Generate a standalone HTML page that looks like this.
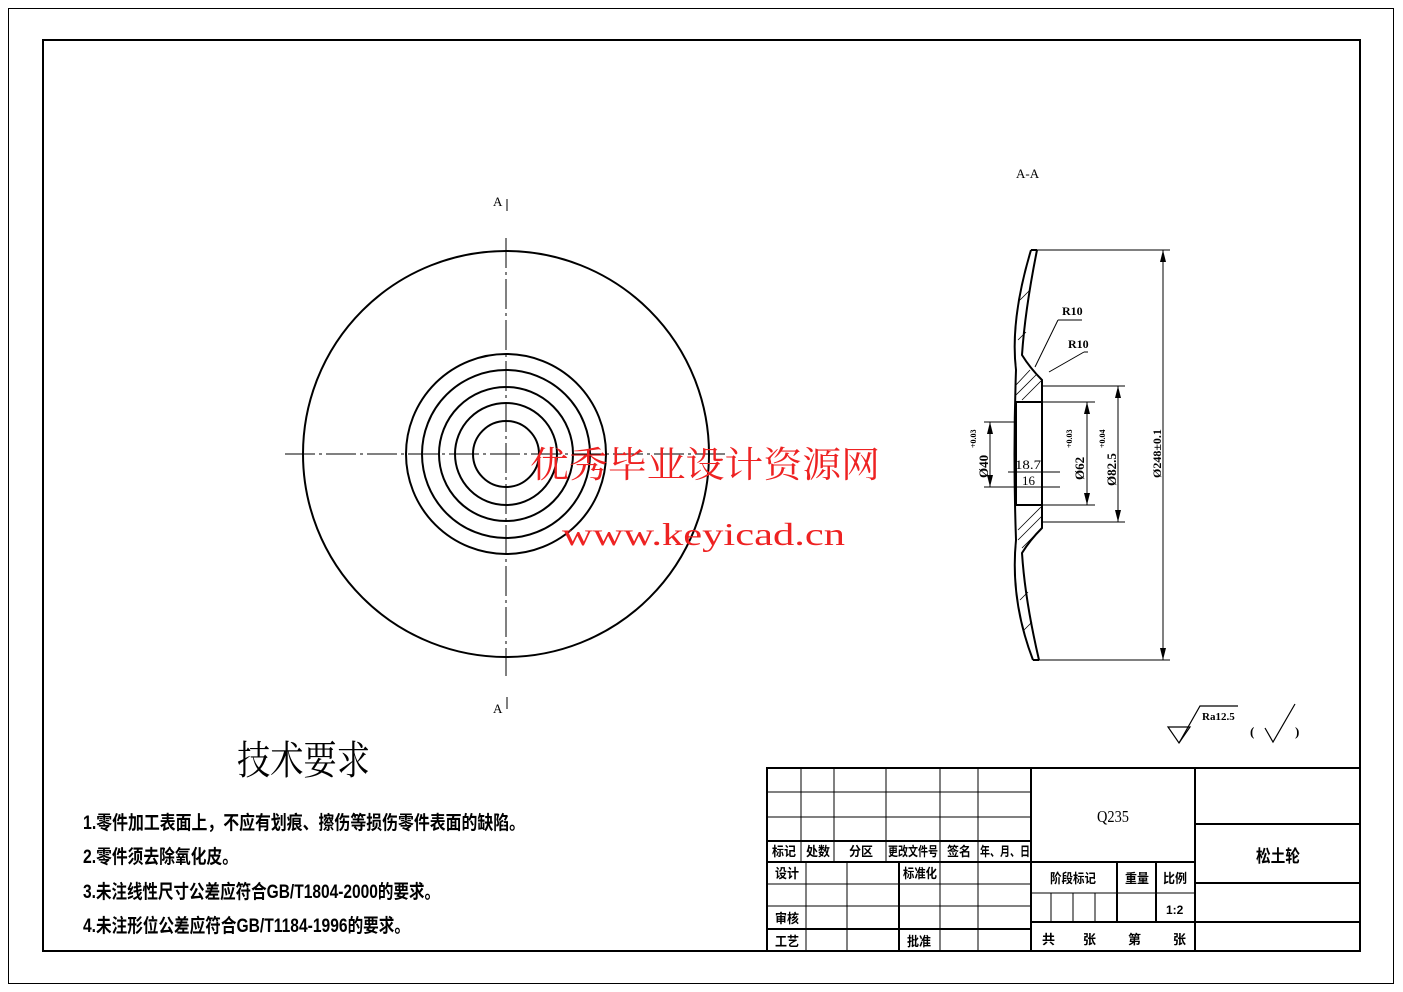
<!DOCTYPE html>
<html><head><meta charset="utf-8"><style>
html,body{margin:0;padding:0;background:#fff;}
svg{display:block;}
text{font-family:"Liberation Serif","Noto Serif CJK SC","Noto Sans CJK SC",serif;fill:#000;}
.cn{font-family:"Liberation Sans","Noto Sans CJK SC",sans-serif;font-weight:bold;}
</style></head><body>
<svg width="1403" height="992" viewBox="0 0 1403 992" xmlns="http://www.w3.org/2000/svg">
<rect x="0" y="0" width="1403" height="992" fill="#fff"/>
<rect x="8.5" y="8.5" width="1385" height="975" fill="none" stroke="#000" stroke-width="1"/>
<rect x="43" y="40" width="1317" height="911" fill="none" stroke="#000" stroke-width="2"/>

<!-- front view -->
<g fill="none" stroke="#000" stroke-width="2">
<circle cx="506" cy="454" r="203"/>
<circle cx="506" cy="454" r="100"/>
<circle cx="506" cy="454" r="84"/>
<circle cx="506" cy="454" r="67"/>
<circle cx="506" cy="454" r="51"/>
<circle cx="506" cy="454" r="33"/>
</g>
<g stroke="#000" stroke-width="1" stroke-dasharray="30,4,3,4">
<line x1="285" y1="454" x2="727" y2="454"/>
<line x1="506" y1="238" x2="506" y2="676"/>
</g>
<text x="493" y="206" font-size="13">A</text>
<line x1="507" y1="199" x2="507" y2="211" stroke="#000"/>
<text x="493" y="713" font-size="13">A</text>
<line x1="507" y1="697" x2="507" y2="709" stroke="#000"/>

<!-- section view -->
<text x="1016" y="178" font-size="13">A-A</text>
<g fill="none" stroke="#000" stroke-width="2">
<path d="M1031 250 Q1010 320 1016 370 Q1013 454 1016 540 Q1010 600 1033 660"/>
<path d="M1037 250 Q1025 310 1022 355 Q1030 368 1042 380 L1042 528 Q1030 540 1022 553 Q1025 600 1039 660"/>
<rect x="1016" y="402" width="26" height="103"/>
<line x1="1031" y1="250" x2="1037" y2="250"/>
<line x1="1033" y1="660" x2="1039" y2="660"/>
</g>
<g stroke="#000" stroke-width="0.8">
<line x1="1016" y1="385" x2="1030" y2="370"/><line x1="1016" y1="395" x2="1036" y2="375"/>
<line x1="1022" y1="400" x2="1041" y2="381"/><line x1="1018" y1="530" x2="1041" y2="507"/>
<line x1="1018" y1="540" x2="1042" y2="516"/><line x1="1022" y1="548" x2="1034" y2="536"/>
<line x1="1020" y1="300" x2="1030" y2="290"/><line x1="1018" y1="340" x2="1026" y2="332"/>
<line x1="1020" y1="600" x2="1028" y2="592"/><line x1="1024" y1="630" x2="1032" y2="622"/>
</g>
<g stroke="#000" stroke-width="1" fill="none">
<line x1="1037" y1="250" x2="1170" y2="250"/><line x1="1039" y1="660" x2="1170" y2="660"/>
<line x1="1163" y1="250" x2="1163" y2="660"/>
<line x1="1042" y1="386" x2="1125" y2="386"/><line x1="1042" y1="522" x2="1125" y2="522"/>
<line x1="1118" y1="386" x2="1118" y2="522"/>
<line x1="1042" y1="402" x2="1095" y2="402"/><line x1="1042" y1="505" x2="1095" y2="505"/>
<line x1="1087" y1="402" x2="1087" y2="505"/>
<line x1="984" y1="422" x2="1016" y2="422"/><line x1="984" y1="487" x2="1016" y2="487"/>
<line x1="990" y1="422" x2="990" y2="487"/>
<line x1="1008" y1="472" x2="1060" y2="472"/><line x1="1000" y1="487" x2="1060" y2="487"/>
<line x1="1049" y1="372" x2="1084" y2="352"/><line x1="1035" y1="367" x2="1058" y2="320"/>
<line x1="1058" y1="320" x2="1082" y2="320"/><line x1="1084" y1="352" x2="1088" y2="352"/>
</g>
<g fill="#000">
<path d="M1163 250 l-3 12 h6z"/><path d="M1163 660 l-3 -12 h6z"/>
<path d="M1118 386 l-3 12 h6z"/><path d="M1118 522 l-3 -12 h6z"/>
<path d="M1087 402 l-3 12 h6z"/><path d="M1087 505 l-3 -12 h6z"/>
<path d="M990 422 l-3 12 h6z"/><path d="M990 487 l-3 -12 h6z"/>
</g>
<text x="1062" y="315" font-size="12" font-weight="bold">R10</text>
<text x="1068" y="348" font-size="12" font-weight="bold">R10</text>
<text x="1015" y="469" font-size="13" textLength="26" lengthAdjust="spacingAndGlyphs">18.7</text>
<text x="1022" y="485" font-size="13">16</text>
<text transform="translate(988,478) rotate(-90)" font-size="13" font-weight="bold">Ø40</text>
<text transform="translate(976,448) rotate(-90)" font-size="8" font-weight="bold">+0.03</text>
<text transform="translate(1084,480) rotate(-90)" font-size="13" font-weight="bold">Ø62</text>
<text transform="translate(1072,448) rotate(-90)" font-size="8" font-weight="bold">+0.03</text>
<text transform="translate(1116,486) rotate(-90)" font-size="13" font-weight="bold">Ø82.5</text>
<text transform="translate(1105,448) rotate(-90)" font-size="8" font-weight="bold">+0.04</text>
<text transform="translate(1161,478) rotate(-90)" font-size="12" font-weight="bold">Ø248±0.1</text>

<!-- watermark -->
<text x="530" y="477" font-size="36" style="fill:#e22" textLength="350" lengthAdjust="spacingAndGlyphs">优秀毕业设计资源网</text>
<text x="562" y="545" font-size="32" style="fill:#e22" font-family="Liberation Mono,monospace" textLength="283" lengthAdjust="spacingAndGlyphs">www.keyicad.cn</text>

<!-- roughness -->
<g stroke="#000" stroke-width="1.2" fill="none">
<path d="M1168 727 h22 l-11 16 z"/><path d="M1179 743 L1200 706 h38"/>
<path d="M1265 728 l8 14 l22 -38"/>
</g>
<text x="1202" y="720" font-size="11" font-weight="bold">Ra12.5</text>
<text x="1250" y="736" font-size="13" font-weight="bold">(</text>
<text x="1295" y="736" font-size="13" font-weight="bold">)</text>

<!-- tech req -->
<text x="237" y="774" font-size="40" textLength="133" lengthAdjust="spacingAndGlyphs">技术要求</text>
<text class="cn" x="83" y="829" font-size="19" textLength="442" lengthAdjust="spacingAndGlyphs">1.零件加工表面上，不应有划痕、擦伤等损伤零件表面的缺陷。</text>
<text class="cn" x="83" y="863" font-size="19" textLength="155" lengthAdjust="spacingAndGlyphs">2.零件须去除氧化皮。</text>
<text class="cn" x="83" y="898" font-size="19" textLength="357" lengthAdjust="spacingAndGlyphs">3.未注线性尺寸公差应符合GB/T1804-2000的要求。</text>
<text class="cn" x="83" y="932" font-size="19" textLength="327" lengthAdjust="spacingAndGlyphs">4.未注形位公差应符合GB/T1184-1996的要求。</text>

<!-- title block -->
<g stroke="#000" stroke-width="1" fill="none">
<line x1="767" y1="792" x2="1031" y2="792"/>
<line x1="767" y1="817" x2="1031" y2="817"/>
<line x1="767" y1="906" x2="1031" y2="906"/>
<line x1="767" y1="884" x2="1031" y2="884"/>
<line x1="801" y1="768" x2="801" y2="862"/><line x1="834" y1="768" x2="834" y2="862"/>
<line x1="886" y1="768" x2="886" y2="862"/><line x1="940" y1="768" x2="940" y2="862"/>
<line x1="978" y1="768" x2="978" y2="862"/>
<line x1="806" y1="862" x2="806" y2="951"/><line x1="847" y1="862" x2="847" y2="951"/>
<line x1="940" y1="862" x2="940" y2="951"/><line x1="978" y1="862" x2="978" y2="951"/>
<line x1="1051" y1="893" x2="1051" y2="922"/><line x1="1073" y1="893" x2="1073" y2="922"/>
<line x1="1095" y1="893" x2="1095" y2="922"/>
<line x1="1031" y1="893" x2="1195" y2="893"/>
</g>
<g stroke="#000" stroke-width="2" fill="none">
<rect x="767" y="768" width="593" height="183"/>
<line x1="767" y1="841" x2="1031" y2="841"/>
<line x1="767" y1="862" x2="1031" y2="862"/>
<line x1="767" y1="929" x2="1031" y2="929"/>
<line x1="1031" y1="768" x2="1031" y2="951"/>
<line x1="1195" y1="768" x2="1195" y2="951"/>
<line x1="1031" y1="862" x2="1195" y2="862"/>
<line x1="1031" y1="922" x2="1360" y2="922"/>
<line x1="1195" y1="824" x2="1360" y2="824"/>
<line x1="1195" y1="883" x2="1360" y2="883"/>
<line x1="899" y1="862" x2="899" y2="951"/>
<line x1="1117" y1="862" x2="1117" y2="922"/>
<line x1="1156" y1="862" x2="1156" y2="922"/>
</g>
<text class="cn" x="772" y="856" font-size="13" textLength="24" lengthAdjust="spacingAndGlyphs">标记</text>
<text class="cn" x="806" y="856" font-size="13" textLength="24" lengthAdjust="spacingAndGlyphs">处数</text>
<text class="cn" x="849" y="856" font-size="13" textLength="24" lengthAdjust="spacingAndGlyphs">分区</text>
<text class="cn" x="888" y="856" font-size="13" textLength="50" lengthAdjust="spacingAndGlyphs">更改文件号</text>
<text class="cn" x="947" y="856" font-size="13" textLength="24" lengthAdjust="spacingAndGlyphs">签名</text>
<text class="cn" x="980" y="856" font-size="13" textLength="50" lengthAdjust="spacingAndGlyphs">年、月、日</text>
<text class="cn" x="775" y="878" font-size="13" textLength="24" lengthAdjust="spacingAndGlyphs">设计</text>
<text class="cn" x="903" y="878" font-size="13" textLength="34" lengthAdjust="spacingAndGlyphs">标准化</text>
<text class="cn" x="775" y="923" font-size="13" textLength="24" lengthAdjust="spacingAndGlyphs">审核</text>
<text class="cn" x="775" y="946" font-size="13" textLength="24" lengthAdjust="spacingAndGlyphs">工艺</text>
<text class="cn" x="907" y="946" font-size="13" textLength="24" lengthAdjust="spacingAndGlyphs">批准</text>
<text class="cn" x="1050" y="883" font-size="13" textLength="46" lengthAdjust="spacingAndGlyphs">阶段标记</text>
<text class="cn" x="1125" y="883" font-size="13" textLength="24" lengthAdjust="spacingAndGlyphs">重量</text>
<text class="cn" x="1163" y="883" font-size="13" textLength="24" lengthAdjust="spacingAndGlyphs">比例</text>
<text class="cn" x="1166" y="914" font-size="12">1:2</text>
<text class="cn" x="1042" y="944" font-size="13">共</text>
<text class="cn" x="1083" y="944" font-size="13">张</text>
<text class="cn" x="1128" y="944" font-size="13">第</text>
<text class="cn" x="1173" y="944" font-size="13">张</text>
<text class="cn" x="1256" y="862" font-size="17" textLength="44" lengthAdjust="spacingAndGlyphs">松土轮</text>
<text x="1097" y="822" font-size="17" textLength="32" lengthAdjust="spacingAndGlyphs">Q235</text>
</svg>
</body></html>
